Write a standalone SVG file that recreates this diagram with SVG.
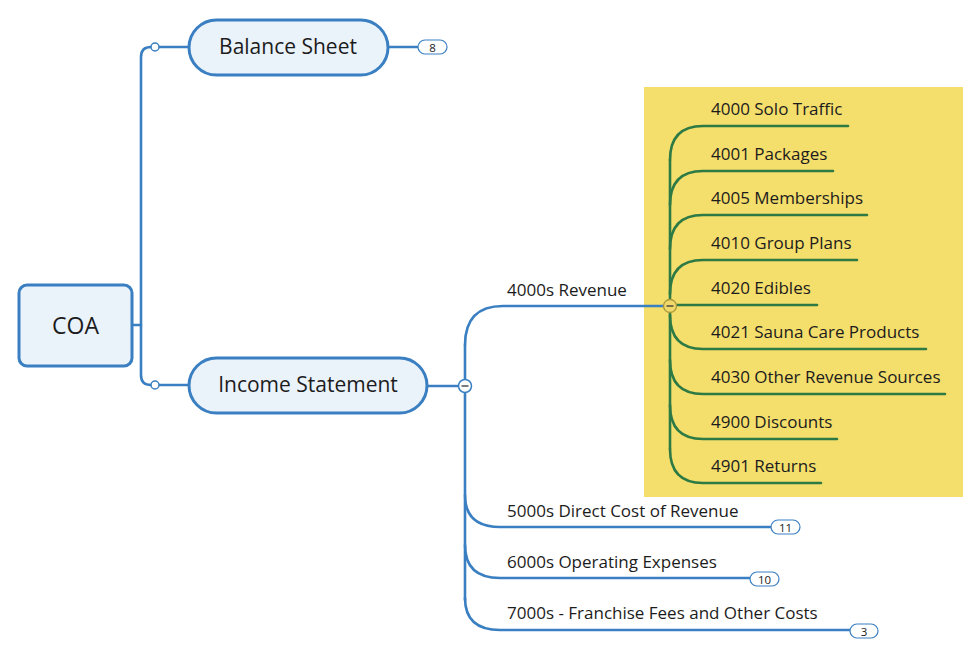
<svg xmlns="http://www.w3.org/2000/svg" width="976" height="665" viewBox="0 0 976 665">
<style>
text{font-family:"Open Sans","Noto Sans","DejaVu Sans",sans-serif;fill:#1c1c1c}
.node{fill:#eaf2fa;stroke:#3a7fc1;stroke-width:3}
.bl{fill:none;stroke:#3a7fc1;stroke-width:2.6;stroke-linecap:round}
.gr{fill:none;stroke:#2e7a45;stroke-width:2.6;stroke-linecap:round}
.big{font-size:21px;text-anchor:middle}
.lbl{font-size:17px}
.leaf{font-size:17px}
.badge{fill:#fff;stroke:#3a7fc1;stroke-width:1.2}
.bt{font-size:11.5px;text-anchor:middle}
</style>
<rect x="0" y="0" width="976" height="665" fill="#fff"/>
<rect id="highlight" x="644" y="87" width="319" height="410" fill="#f4de6c"/>
<g id="connectors">
<path class="bl" d="M132,325 H141"/>
<path class="bl" d="M189,47 H151 Q141,47 141,57 V375 Q141,385 151,385 H189"/>
<path class="bl" d="M388,47 H418"/>
<path class="bl" d="M427,386 H460"/>
<path class="bl" d="M465,392 V600"/>
<path class="bl" d="M465,345 Q465,306 503,306 H664"/>
<path class="bl" d="M465,345 V380"/>
<path class="bl" d="M465,495 Q465,527 500,527 H771"/>
<path class="bl" d="M465,545 Q465,578 500,578 H750"/>
<path class="bl" d="M465,598 Q465,630 500,630 H850"/>
<path class="gr" d="M670,160 Q670,126 703,126 H848"/>
<path class="gr" d="M670,205 Q670,171 703,171 H833"/>
<path class="gr" d="M670,249 Q670,215 703,215 H867"/>
<path class="gr" d="M670,294 Q670,260 703,260 H857"/>
<path class="gr" d="M676,305 H817"/>
<path class="gr" d="M670,315 Q670,349 703,349 H926"/>
<path class="gr" d="M670,360 Q670,394 703,394 H945"/>
<path class="gr" d="M670,405 Q670,439 703,439 H837"/>
<path class="gr" d="M670,449 Q670,483 703,483 H821"/>
<path class="gr" d="M670,160 V449"/>
</g>
<g id="coa"><rect class="node" x="19" y="285" width="113" height="81" rx="8"/><text class="big" x="75.5" y="334" style="font-size:23px">COA</text></g>
<g id="balance-sheet"><rect class="node" x="189" y="20" width="199" height="55" rx="27.5"/><text class="big" x="288" y="54">Balance Sheet</text>
<circle cx="155" cy="47" r="4" fill="#fff" stroke="#3a7fc1" stroke-width="1.5"/>
<rect class="badge" x="418" y="40" width="29" height="14" rx="7"/><text class="bt" x="432.5" y="51.5">8</text></g>
<g id="income-statement"><rect class="node" x="189" y="358" width="238" height="55" rx="27.5"/><text class="big" x="308" y="392">Income Statement</text>
<circle cx="155" cy="385" r="4" fill="#fff" stroke="#3a7fc1" stroke-width="1.5"/>
<circle cx="465" cy="386" r="6.5" fill="#fff" stroke="#3a7fc1" stroke-width="1.5"/><path d="M461.5,386 H468.5" stroke="#333" stroke-width="1.3"/></g>
<g id="revenue"><text class="lbl" x="507" y="296">4000s Revenue</text>
<circle cx="670" cy="306" r="6.5" fill="#f0d86a" stroke="#a8983a" stroke-width="1.3"/><path d="M666.5,306 H673.5" stroke="#333" stroke-width="1.3"/></g>
<g id="n4000"><text class="leaf" x="711" y="115">4000 Solo Traffic</text></g>
<g id="n4001"><text class="leaf" x="711" y="160">4001 Packages</text></g>
<g id="n4005"><text class="leaf" x="711" y="204">4005 Memberships</text></g>
<g id="n4010"><text class="leaf" x="711" y="249">4010 Group Plans</text></g>
<g id="n4020"><text class="leaf" x="711" y="294">4020 Edibles</text></g>
<g id="n4021"><text class="leaf" x="711" y="338">4021 Sauna Care Products</text></g>
<g id="n4030"><text class="leaf" x="711" y="383">4030 Other Revenue Sources</text></g>
<g id="n4900"><text class="leaf" x="711" y="428">4900 Discounts</text></g>
<g id="n4901"><text class="leaf" x="711" y="472">4901 Returns</text></g>
<g id="n5000"><text class="lbl" x="507" y="517">5000s Direct Cost of Revenue</text>
<rect class="badge" x="771" y="520" width="29" height="14" rx="7"/><text class="bt" x="785.5" y="531.5">11</text></g>
<g id="n6000"><text class="lbl" x="507" y="568">6000s Operating Expenses</text>
<rect class="badge" x="750" y="572" width="29" height="14" rx="7"/><text class="bt" x="764.5" y="583.5">10</text></g>
<g id="n7000"><text class="lbl" x="507" y="619">7000s - Franchise Fees and Other Costs</text>
<rect class="badge" x="850" y="624" width="28" height="14" rx="7"/><text class="bt" x="864" y="635.5">3</text></g>
</svg>
